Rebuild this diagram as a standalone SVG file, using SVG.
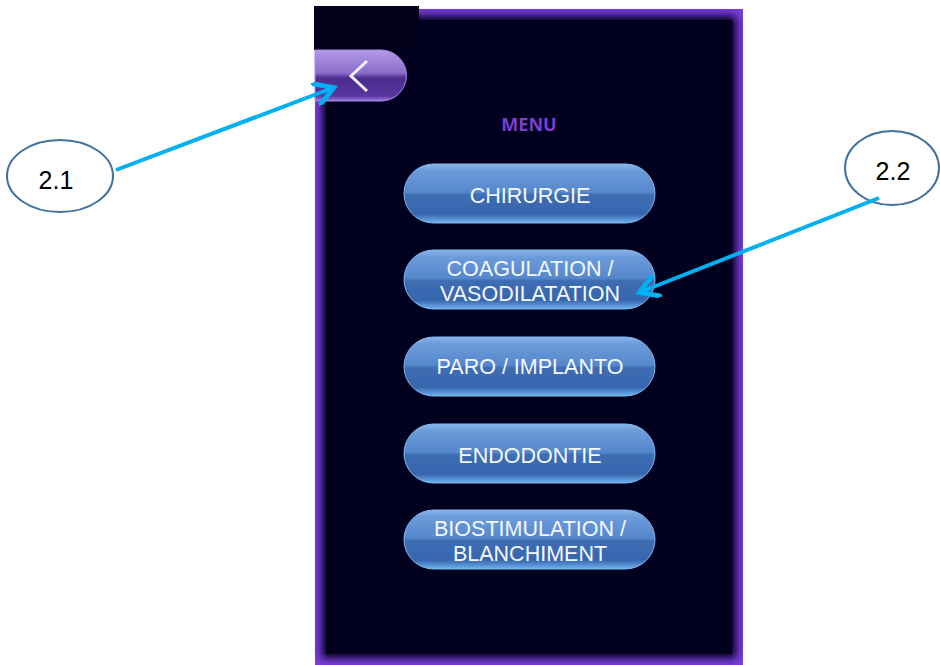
<svg xmlns="http://www.w3.org/2000/svg" width="940" height="665" viewBox="0 0 940 665">
<defs>
<style>
.btxt{font-family:"Liberation Sans","Noto Sans",sans-serif;font-size:21.5px;fill:#F4F8FF;text-anchor:middle}
.lbl{font-family:"Liberation Sans","Noto Sans",sans-serif;font-size:25px;fill:#000;text-anchor:middle}
.ell{fill:#fff;stroke:#41719C;stroke-width:2}
.btn{fill:url(#bg);stroke:#7FB8F0;stroke-width:1}
.conn{stroke:#00B0F0;stroke-width:4;fill:none;marker-end:url(#ah)}
</style>
<linearGradient id="bg" x1="0" y1="0" x2="0" y2="1">
<stop offset="0" stop-color="#8AB4EA"/>
<stop offset="0.12" stop-color="#6C9BDA"/>
<stop offset="0.48" stop-color="#5587CC"/>
<stop offset="0.52" stop-color="#3E6DB4"/>
<stop offset="0.85" stop-color="#3766AE"/>
<stop offset="1" stop-color="#6FB3F0"/>
</linearGradient>
<linearGradient id="pg" x1="0" y1="0" x2="0" y2="1">
<stop offset="0" stop-color="#B49BE6"/>
<stop offset="0.45" stop-color="#8A6CCB"/>
<stop offset="0.55" stop-color="#4C2C8E"/>
<stop offset="0.9" stop-color="#5A36A0"/>
<stop offset="1" stop-color="#9B7BE0"/>
</linearGradient>
<filter id="blur" x="-10%" y="-10%" width="120%" height="120%"><feGaussianBlur stdDeviation="4"/></filter>
<marker id="ah" markerWidth="6" markerHeight="6" refX="4" refY="3" orient="auto" markerUnits="strokeWidth">
<path d="M0,0 L5,3 L0,6" fill="none" stroke="#00B0F0" stroke-width="1.2"/>
</marker>
</defs>
<rect width="940" height="665" fill="#fff"/>
<g id="panel">
<rect x="315" y="9" width="428" height="656" fill="#7A3DDB"/>
<rect x="322" y="16" width="414" height="642" fill="#02001F" filter="url(#blur)"/>
<rect x="326" y="20" width="406" height="634" fill="#02001F"/>
<rect x="314" y="6" width="105" height="44" fill="#02001C"/>
</g>
<g id="back">
<path d="M315,50 H381 A25.5,25.5 0 0 1 381,101 H315 Z" fill="url(#pg)" stroke="#A78BE8" stroke-width="1"/>
<path d="M367,61 L351,76 L367,91" fill="none" stroke="#F4F0FF" stroke-width="3"/>
</g>
<text x="529" y="131" font-family="'Open Sans','Noto Sans',sans-serif" font-size="18" font-weight="bold" fill="#7B3FD0" text-anchor="middle">MENU</text>
<g id="b1"><rect class="btn" x="404" y="164" width="251" height="59" rx="29.5"/><text class="btxt" x="530" y="203">CHIRURGIE</text></g>
<g id="b2"><rect class="btn" x="404" y="250" width="251" height="59" rx="29.5"/><text class="btxt" x="530" y="276">COAGULATION /</text><text class="btxt" x="530" y="301">VASODILATATION</text></g>
<g id="b3"><rect class="btn" x="404" y="337" width="251" height="59" rx="29.5"/><text class="btxt" x="530" y="374">PARO / IMPLANTO</text></g>
<g id="b4"><rect class="btn" x="404" y="424" width="251" height="59" rx="29.5"/><text class="btxt" x="530" y="463">ENDODONTIE</text></g>
<g id="b5"><rect class="btn" x="404" y="510" width="251" height="59" rx="29.5"/><text class="btxt" x="530" y="536">BIOSTIMULATION /</text><text class="btxt" x="530" y="561">BLANCHIMENT</text></g>
<g id="n21"><ellipse class="ell" cx="60" cy="176" rx="53" ry="36"/><text class="lbl" x="56" y="189">2.1</text></g>
<g id="n22"><ellipse class="ell" cx="892" cy="168" rx="47" ry="37"/><text class="lbl" x="893" y="180">2.2</text></g>
<g id="connectors">
<line class="conn" x1="116" y1="170" x2="330" y2="89"/>
<line class="conn" x1="879" y1="198" x2="643" y2="291"/>
</g>
</svg>
